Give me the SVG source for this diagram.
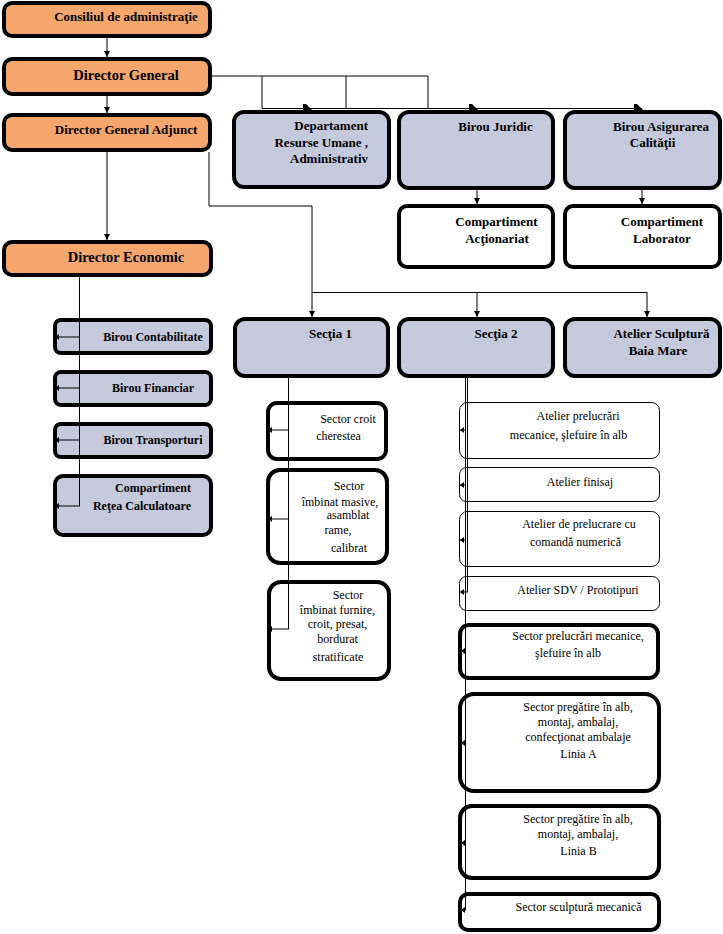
<svg xmlns="http://www.w3.org/2000/svg" width="723" height="934" viewBox="0 0 723 934">
<defs>
<marker id="arr" viewBox="0 0 6 6" refX="6" refY="3" markerWidth="6" markerHeight="6" markerUnits="userSpaceOnUse" orient="auto">
<path d="M0,0 L6,3 L0,6 z" fill="#000"/>
</marker>
<marker id="arrs" viewBox="0 0 4 6" refX="4" refY="3" markerWidth="4" markerHeight="6" markerUnits="userSpaceOnUse" orient="auto">
<path d="M0,0 L4,3 L0,6 z" fill="#000"/>
</marker>
</defs>
<style>
.or{fill:#f4a66c;stroke:#000;stroke-width:4}
.bl{fill:#c4cadc;stroke:#000;stroke-width:4}
.wt{fill:#fff;stroke:#000;stroke-width:4}
.wn{fill:#fff;stroke:#000;stroke-width:1}
.tb{font-family:"Liberation Serif","Times New Roman",serif;font-weight:bold;font-size:13px;fill:#000}
.tb12{font-family:"Liberation Serif","Times New Roman",serif;font-weight:bold;font-size:12px;fill:#000}
.tbl{font-family:"Liberation Serif","Times New Roman",serif;font-weight:bold;font-size:14.5px;fill:#000}
.tr{font-family:"Liberation Serif","Times New Roman",serif;font-size:12px;fill:#000}
.c{text-anchor:middle}
.e{text-anchor:end}
.ln{fill:none;stroke:#000;stroke-width:1}
</style>

<g id="consiliul">
<rect class="or" x="4" y="3" width="206" height="33" rx="8"/>
<text class="tb c" x="126" y="21">Consiliul de administraţie</text>
</g>
<g id="director-general">
<rect class="or" x="4" y="59" width="206" height="35" rx="8"/>
<text class="tbl c" x="126" y="80" font-size="14">Director General</text>
</g>
<g id="director-general-adjunct">
<rect class="or" x="4" y="115" width="206" height="35" rx="8"/>
<text class="tb c" x="126" y="134">Director General Adjunct</text>
</g>
<g id="director-economic">
<rect class="or" x="4" y="242" width="207" height="33" rx="8"/>
<text class="tbl c" x="126" y="262">Director Economic</text>
</g>

<g id="departament">
<rect class="bl" x="234" y="112" width="155" height="75" rx="10"/>
<text class="tb e" x="368" y="130">Departament</text>
<text class="tb e" x="368" y="147">Resurse Umane ,</text>
<text class="tb e" x="368" y="163">Administrativ</text>
</g>
<g id="birou-juridic">
<rect class="bl" x="399" y="112" width="154" height="76" rx="10"/>
<text class="tb c" x="495.5" y="131">Birou Juridic</text>
</g>
<g id="birou-asigurarea">
<rect class="bl" x="565" y="112" width="155" height="76" rx="10"/>
<text class="tb c" x="661" y="131">Birou Asigurarea</text>
<text class="tb c" x="652.5" y="147">Calităţii</text>
</g>
<g id="compartiment-actionariat">
<rect class="wt" x="399" y="206" width="154" height="61" rx="8"/>
<text class="tb c" x="496.5" y="226">Compartiment</text>
<text class="tb c" x="497" y="243">Acţionariat</text>
</g>
<g id="compartiment-laborator">
<rect class="wt" x="565" y="206" width="155" height="61" rx="8"/>
<text class="tb c" x="662" y="226">Compartiment</text>
<text class="tb c" x="662" y="243">Laborator</text>
</g>

<g id="birou-contabilitate">
<rect class="bl" x="55" y="320" width="156" height="33" rx="6"/>
<text class="tb12 c" x="153" y="341">Birou Contabilitate</text>
</g>
<g id="birou-financiar">
<rect class="bl" x="55" y="372" width="156" height="33" rx="6"/>
<text class="tb12 c" x="153" y="392">Birou Financiar</text>
</g>
<g id="birou-transporturi">
<rect class="bl" x="55" y="424" width="156" height="33" rx="6"/>
<text class="tb12 c" x="153" y="444">Birou Transporturi</text>
</g>
<g id="compartiment-retea">
<rect class="bl" x="55" y="476" width="156" height="59" rx="8"/>
<text class="tb12 c" x="153" y="492">Compartiment</text>
<text class="tb12 c" x="142" y="510">Reţea Calculatoare</text>
</g>

<g id="sectia-1">
<rect class="bl" x="235" y="319" width="153" height="57" rx="10"/>
<text class="tb c" x="330.5" y="338">Secţia 1</text>
</g>
<g id="sectia-2">
<rect class="bl" x="399" y="319" width="154" height="57" rx="10"/>
<text class="tb c" x="496" y="338">Secţia 2</text>
</g>
<g id="atelier-sculptura">
<rect class="bl" x="565" y="319" width="155" height="57" rx="10"/>
<text class="tb c" x="661.5" y="338">Atelier Sculptură</text>
<text class="tb c" x="658" y="355">Baia Mare</text>
</g>

<g id="sector-croit">
<rect class="wt" x="268" y="403" width="118" height="56" rx="9"/>
<text class="tr c" x="348" y="423">Sector croit</text>
<text class="tr c" x="338.5" y="440">cherestea</text>
</g>
<g id="sector-imbinat-masive">
<rect class="wt" x="268" y="470" width="119" height="93" rx="12"/>
<text class="tr c" x="349" y="490">Sector</text>
<text class="tr c" x="340" y="506">îmbinat masive,</text>
<text class="tr c" x="348" y="519">asamblat</text>
<text class="tr c" x="338" y="534">rame,</text>
<text class="tr c" x="349" y="552">calibrat</text>
</g>
<g id="sector-imbinat-furnire">
<rect class="wt" x="269" y="582" width="120" height="97" rx="12"/>
<text class="tr c" x="348" y="599">Sector</text>
<text class="tr c" x="337.5" y="614">îmbinat furnire,</text>
<text class="tr c" x="337.5" y="628">croit, presat,</text>
<text class="tr c" x="337.5" y="643">bordurat</text>
<text class="tr c" x="338" y="661">stratificate</text>
</g>

<g id="atelier-prelucrari">
<rect class="wn" x="459.5" y="402.5" width="200" height="56" rx="8"/>
<text class="tr c" x="578" y="420">Atelier prelucrări</text>
<text class="tr c" x="568.5" y="439">mecanice, şlefuire în alb</text>
</g>
<g id="atelier-finisaj">
<rect class="wn" x="459.5" y="467.5" width="200" height="34" rx="7"/>
<text class="tr c" x="580" y="486">Atelier finisaj</text>
</g>
<g id="atelier-comanda">
<rect class="wn" x="459.5" y="511.5" width="200" height="55" rx="8"/>
<text class="tr c" x="579" y="528">Atelier de prelucrare cu</text>
<text class="tr c" x="575.5" y="546">comandă numerică</text>
</g>
<g id="atelier-sdv">
<rect class="wn" x="459.5" y="576.5" width="200" height="34" rx="7"/>
<text class="tr c" x="578" y="594">Atelier SDV / Prototipuri</text>
</g>
<g id="sector-prelucrari">
<rect class="wt" x="460" y="625" width="198" height="53" rx="9"/>
<text class="tr c" x="578" y="640">Sector prelucrări mecanice,</text>
<text class="tr c" x="568" y="657">şlefuire în alb</text>
</g>
<g id="sector-linia-a">
<rect class="wt" x="460" y="694" width="199" height="97" rx="14"/>
<text class="tr c" x="578" y="711">Sector pregătire în alb,</text>
<text class="tr c" x="578" y="726">montaj, ambalaj,</text>
<text class="tr c" x="578" y="741">confecţionat ambalaje</text>
<text class="tr c" x="578.5" y="758">Linia A</text>
</g>
<g id="sector-linia-b">
<rect class="wt" x="460" y="806" width="199" height="72" rx="12"/>
<text class="tr c" x="578" y="823">Sector pregătire în alb,</text>
<text class="tr c" x="578" y="838">montaj, ambalaj,</text>
<text class="tr c" x="578.5" y="855">Linia B</text>
</g>
<g id="sector-sculptura">
<rect class="wt" x="460" y="894" width="199" height="36" rx="8"/>
<text class="tr c" x="578.5" y="911">Sector sculptură mecanică</text>
</g>

<g id="connectors">
<line class="ln" x1="107" y1="38" x2="107" y2="57" marker-end="url(#arr)"/>
<line class="ln" x1="107" y1="96" x2="107" y2="113" marker-end="url(#arr)"/>
<polyline class="ln" points="212,76 428,76 428,108"/>
<line class="ln" x1="262" y1="76" x2="262" y2="108"/>
<line class="ln" x1="346" y1="76" x2="346" y2="108"/>
<line class="ln" x1="262" y1="108.5" x2="642" y2="108.5"/>
<path d="M303,104 L306,104 L312,110 L303,110 z" fill="#000"/>
<path d="M469,104 L472,104 L478,110 L469,110 z" fill="#000"/>
<path d="M634,104 L637,104 L643,110 L634,110 z" fill="#000"/>
<line class="ln" x1="477" y1="190" x2="477" y2="204" marker-end="url(#arr)"/>
<line class="ln" x1="642" y1="190" x2="642" y2="204" marker-end="url(#arr)"/>
<line class="ln" x1="107" y1="152" x2="107" y2="240" marker-end="url(#arr)"/>
<polyline class="ln" points="209,152 209,206 312,206 312,292"/>
<line class="ln" x1="312" y1="292.5" x2="647" y2="292.5"/>
<line class="ln" x1="312" y1="292" x2="312" y2="317" marker-end="url(#arr)"/>
<line class="ln" x1="477" y1="292" x2="477" y2="317" marker-end="url(#arr)"/>
<line class="ln" x1="647" y1="292" x2="647" y2="317" marker-end="url(#arr)"/>
<line class="ln" x1="79.5" y1="277" x2="79.5" y2="506"/>
<line class="ln" x1="79.5" y1="337" x2="55" y2="337" marker-end="url(#arrs)"/>
<line class="ln" x1="79.5" y1="388" x2="55" y2="388" marker-end="url(#arrs)"/>
<line class="ln" x1="79.5" y1="440" x2="55" y2="440" marker-end="url(#arrs)"/>
<line class="ln" x1="80" y1="506" x2="55" y2="506" marker-end="url(#arrs)"/>
<line class="ln" x1="288.5" y1="378" x2="288.5" y2="629"/>
<line class="ln" x1="288.5" y1="430" x2="268" y2="430" marker-end="url(#arrs)"/>
<line class="ln" x1="288.5" y1="519" x2="268" y2="519" marker-end="url(#arrs)"/>
<line class="ln" x1="289" y1="629" x2="268" y2="629" marker-end="url(#arrs)"/>
<line class="ln" x1="465.5" y1="378" x2="465.5" y2="910"/>
<line class="ln" x1="467.5" y1="378" x2="467.5" y2="592"/>
<line class="ln" x1="468" y1="592" x2="460" y2="592" marker-end="url(#arrs)"/>
<line class="ln" x1="465.5" y1="430" x2="460" y2="430" marker-end="url(#arrs)"/>
<line class="ln" x1="465.5" y1="485" x2="460" y2="485" marker-end="url(#arrs)"/>
<line class="ln" x1="465.5" y1="540" x2="460" y2="540" marker-end="url(#arrs)"/>
<line class="ln" x1="465.5" y1="651" x2="461" y2="651" marker-end="url(#arrs)"/>
<line class="ln" x1="465.5" y1="743" x2="461" y2="743" marker-end="url(#arrs)"/>
<line class="ln" x1="465.5" y1="843" x2="461" y2="843" marker-end="url(#arrs)"/>
<line class="ln" x1="466" y1="910" x2="461" y2="910" marker-end="url(#arrs)"/>
</g>
</svg>
